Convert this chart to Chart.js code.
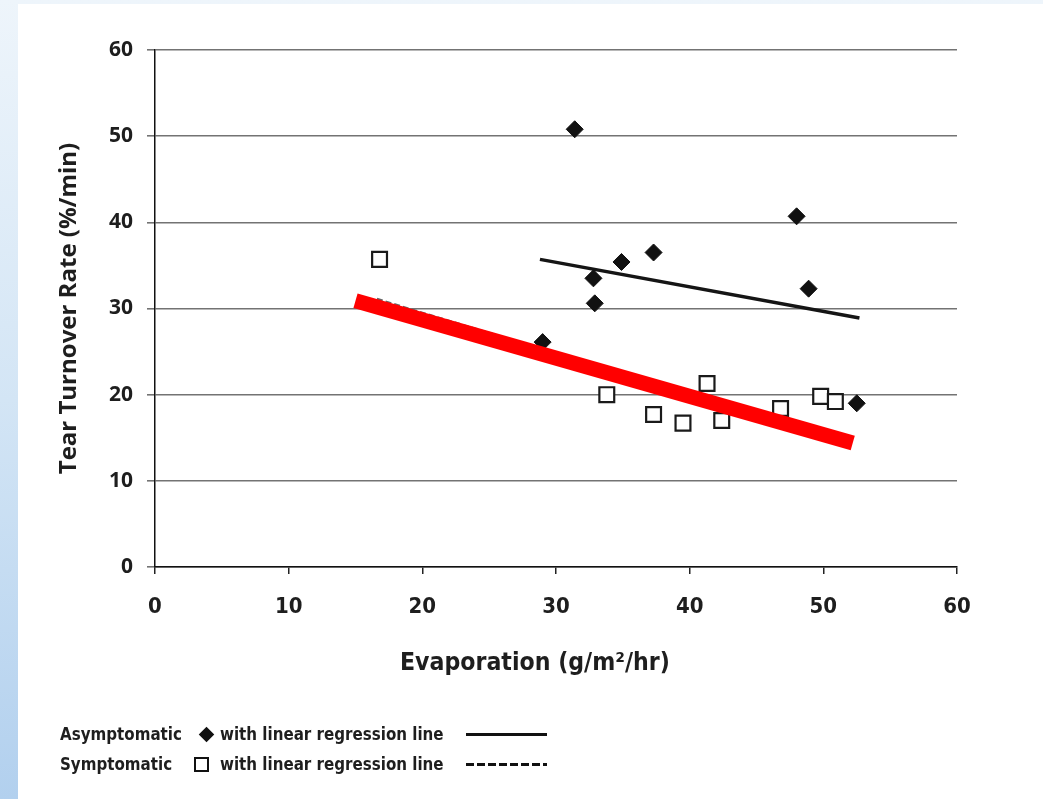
<!DOCTYPE html>
<html>
<head>
<meta charset="utf-8">
<script src="https://cdn.jsdelivr.net/npm/chart.js@4.4.1/dist/chart.umd.min.js"></script>
<style>
  html, body { margin: 0; padding: 0; }
  body {
    width: 1043px; height: 799px; position: relative; overflow: hidden;
    background: linear-gradient(to bottom, #eef5fb 0%, #d3e5f5 50%, #b2d0ee 100%);
  }
  #panel { position: absolute; left: 18px; top: 4px; right: 0; bottom: 0; background: #fff; }
  #wrap { position: absolute; left: 0; top: 0; width: 1043px; height: 799px; }
  .txt {
    position: absolute; white-space: nowrap;
    font-family: "Liberation Sans Narrow", "DejaVu Sans Condensed", sans-serif;
    font-weight: bold; color: #1e1e1e;
  }
  .leg { font-size: 16.8px; line-height: 22px; }
  #xtitle { font-size: 24.6px; line-height: 30px; left: 400px; top: 647px; }
  .diamond { position: absolute; width: 11px; height: 11px; background: #111; transform: rotate(45deg); }
  .square { position: absolute; width: 11px; height: 11px; border: 2px solid #111; background: #fff; }
  .solid { position: absolute; left: 466px; width: 81px; height: 3px; background: #111; }
  .dashed { position: absolute; left: 466px; width: 81px; height: 3px;
    background: repeating-linear-gradient(to right, #111 0 8px, transparent 8px 11px); }
</style>
</head>
<body>
<div id="panel"></div>
<div id="wrap"><canvas id="chart" width="1043" height="799"></canvas></div>

<div class="txt" id="xtitle">Evaporation (g/m²/hr)</div>

<div class="txt leg" style="left:60px; top:723px">Asymptomatic</div>
<div class="diamond" style="left:201px; top:729px"></div>
<div class="txt leg" style="left:220px; top:723px">with linear regression line</div>
<div class="solid" style="top:733px"></div>

<div class="txt leg" style="left:60px; top:753px">Symptomatic</div>
<div class="square" style="left:194px; top:757px"></div>
<div class="txt leg" style="left:220px; top:753px">with linear regression line</div>
<div class="dashed" style="top:763px"></div>

<script>
// valores
const asintX = [31.4, 48.0, 37.3, 34.9, 32.8, 32.9, 48.9, 29.0, 52.5];
const asintY = [50.8, 40.7, 36.5, 35.4, 33.5, 30.6, 32.3, 26.1, 19.0];

const sintX = [16.8, 33.8, 37.3, 39.5, 41.3, 42.4, 46.8, 49.8, 50.9];
const sintY = [35.7, 20.0, 17.7, 16.7, 21.3, 17.0, 18.4, 19.8, 19.2];

// rectas de regresión (extremos)
const regAsintX = [28.8, 52.7];
const regAsintY = [35.7, 28.9];
const regSintX = [16.6, 51.0];
const regSintY = [31.1, 14.9];

// trazo rojo encima
const rojoX = [15.0, 52.2];
const rojoY = [30.9, 14.4];

const xTicks = [0, 10, 20, 30, 40, 50, 60];
const yTicks = [0, 10, 20, 30, 40, 50, 60];

const pares = (xs, ys) => xs.map((x, i) => ({ x: x, y: ys[i] }));

const narrow = '"Liberation Sans Narrow", "DejaVu Sans Condensed", sans-serif';
const wide = '"Open Sans", "DejaVu Sans", sans-serif';

const ctx = document.getElementById('chart').getContext('2d');

new Chart(ctx, {
    type: 'scatter',
    data: {
        datasets: [
            {
                label: 'Rojo',
                data: pares(rojoX, rojoY),
                showLine: true,
                borderColor: '#ff0000',
                borderWidth: 15,
                borderCapStyle: 'butt',
                pointRadius: 0,
                order: 0
            },
            {
                label: 'Symptomatic',
                data: pares(sintX, sintY),
                pointStyle: 'rect',
                pointRadius: 10.5,
                pointBackgroundColor: '#ffffff',
                pointBorderColor: '#1a1a1a',
                pointBorderWidth: 2.2,
                order: 1
            },
            {
                label: 'Asymptomatic',
                data: pares(asintX, asintY),
                pointStyle: 'rectRot',
                pointRadius: 8.5,
                pointBackgroundColor: '#111111',
                pointBorderColor: '#111111',
                pointBorderWidth: 1,
                order: 2
            },
            {
                label: 'Regresión asintomáticos',
                data: pares(regAsintX, regAsintY),
                showLine: true,
                borderColor: '#151515',
                borderWidth: 3.5,
                pointRadius: 0,
                order: 3
            },
            {
                label: 'Regresión sintomáticos',
                data: pares(regSintX, regSintY),
                showLine: true,
                borderColor: '#666666',
                borderWidth: 2.5,
                borderDash: [6, 3],
                pointRadius: 0,
                order: 4
            }
        ]
    },
    options: {
        responsive: false,
        animation: false,
        layout: { padding: { left: 0, top: 50, right: 86, bottom: 0 } },
        plugins: {
            legend: { display: false },
            tooltip: { enabled: false }
        },
        scales: {
            x: {
                type: 'linear',
                min: 0,
                max: 60,
                afterBuildTicks: s => { s.ticks = xTicks.map(v => ({ value: v })); },
                afterFit: s => { s.height = 232; },
                grid: { drawOnChartArea: false, drawTicks: true, tickLength: 7, color: '#222', lineWidth: 1.5 },
                border: { color: '#111', width: 1.5 },
                ticks: { padding: 20, color: '#1e1e1e', font: { family: narrow, size: 22, weight: 'bold' } }
            },
            y: {
                type: 'linear',
                min: 0,
                max: 60,
                afterBuildTicks: s => { s.ticks = yTicks.map(v => ({ value: v })); },
                afterFit: s => { s.width = 155; },
                grid: { drawTicks: true, tickLength: 8, color: '#737373', lineWidth: 1.6 },
                border: { color: '#111', width: 1.5 },
                ticks: { padding: 14, color: '#1e1e1e', font: { family: wide, size: 21, weight: 'bold' } },
                title: {
                    display: true,
                    text: 'Tear Turnover Rate (%/min)',
                    color: '#1e1e1e',
                    font: { family: wide, size: 24, weight: 'bold' },
                    padding: { top: 55, bottom: 0 }
                }
            }
        }
    }
});
</script>
</body>
</html>
